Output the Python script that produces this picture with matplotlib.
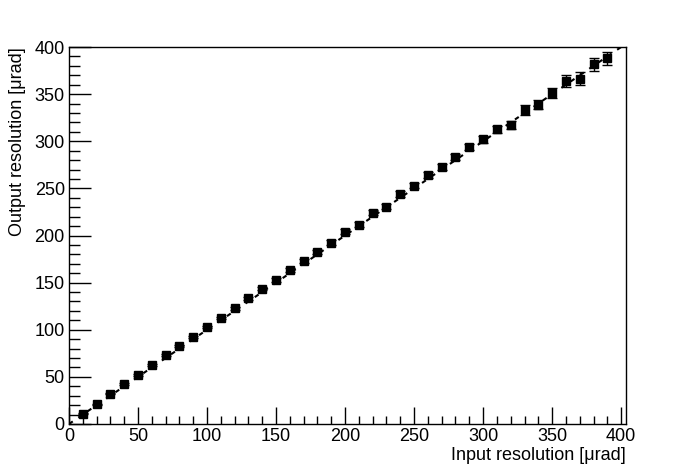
import matplotlib
matplotlib.use("Agg")
import matplotlib.pyplot as plt
from matplotlib.ticker import MultipleLocator

input_res = [10, 20, 30, 40, 50, 60, 70, 80, 90, 100, 110, 120, 130, 140, 150,
             160, 170, 180, 190, 200, 210, 220, 230, 240, 250, 260, 270, 280,
             290, 300, 310, 320, 330, 340, 350, 360, 370, 380, 390]
output_res = [11, 21, 32, 42.5, 52, 62.5, 73, 83, 92.5, 103, 112.5, 123, 133.5,
              143.5, 153, 163.5, 172.5, 182.5, 192.5, 204, 211.5, 224, 230.5,
              244, 253, 264.5, 273, 283, 294, 302, 312.5, 317.5, 333, 339, 351,
              364, 366.5, 381.5, 388]
output_err = [0.3, 0.5, 0.6, 0.8, 0.9, 1.0, 1.1, 1.2, 1.3, 1.4, 1.5, 1.6, 1.7,
              1.8, 1.9, 2.0, 2.1, 2.2, 2.3, 2.4, 2.5, 2.6, 2.7, 3.0, 3.1, 3.2,
              3.3, 3.4, 3.5, 3.6, 3.8, 4.3, 5.0, 5.0, 5.0, 6.0, 6.5, 7.0, 7.0]
ref_line = [0, 400]

plt.rcParams['font.family'] = ['Liberation Sans', 'DejaVu Sans']

fig = plt.figure(figsize=(6.96, 4.72), dpi=100)
ax = fig.add_axes([0.0991, 0.1017, 0.8003, 0.7987])

ax.plot(ref_line, ref_line, color='black', lw=1.5, linestyle=(0, (2.2, 3.2)), zorder=2)
ax.errorbar(input_res, output_res, yerr=output_err, fmt='s', color='black',
            markersize=6, elinewidth=1, capsize=3.5, capthick=1, zorder=3)

ax.set_xlim(0, 403.5)
ax.set_ylim(0, 400)
ax.xaxis.set_major_locator(MultipleLocator(50))
ax.xaxis.set_minor_locator(MultipleLocator(10))
ax.yaxis.set_major_locator(MultipleLocator(50))
ax.yaxis.set_minor_locator(MultipleLocator(10))
ax.tick_params(axis='both', which='both', direction='in', top=False, right=False,
               labelsize=13, width=1)
ax.tick_params(axis='x', which='major', length=12, pad=3)
ax.tick_params(axis='x', which='minor', length=6)
ax.tick_params(axis='y', which='major', length=16, pad=3)
ax.tick_params(axis='y', which='minor', length=8)
for s in ax.spines.values():
    s.set_linewidth(1)

ax.set_xlabel('Input resolution [μrad]', fontsize=13, loc='right', labelpad=1)
ax.set_ylabel('Output resolution [μrad]', fontsize=13, loc='top', labelpad=6)

fig.savefig('out.png', dpi=100)
